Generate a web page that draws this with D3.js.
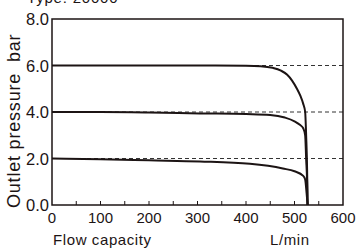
<!DOCTYPE html>
<html><head><meta charset="utf-8">
<script src="https://cdn.jsdelivr.net/npm/d3@7/dist/d3.min.js"></script>
<style>
html,body{margin:0;padding:0;background:#fff;}
svg{display:block;font-family:"Liberation Sans",Arial,Helvetica,sans-serif;}
</style></head>
<body><svg id="c" width="358" height="249"></svg>
<script>
const title = "Type: 20000";
const xTicks = [0,100,200,300,400,500,600];
const xMinorTicks = [50,150,250,350,450,550];
const yTicks = [0,2,4,6,8];
const refLevels = [2,4,6];
const flow6 = [0,100,200,300,400,430,455,472,485,495,505,512,518,522,524,526,527];
const press6 = [6,6,6,6,5.99,5.97,5.9,5.78,5.6,5.35,5.0,4.7,4.35,4.0,3.0,1.5,0];
const flow4 = [0,100,200,305,400,450,480,500,511,518,522,524,526,527];
const press4 = [4,4,3.98,3.94,3.91,3.87,3.76,3.6,3.45,3.3,3.0,2.0,1.0,0];
const flow2 = [0,100,200,305,408,476,500,518,522,525,527];
const press2 = [2,1.97,1.92,1.87,1.77,1.57,1.45,1.25,1.1,0.5,0];

const svg = d3.select("#c");
const L=52,R=343,T=19,B=205;
const x = d3.scaleLinear().domain([0,600]).range([L,R]);
const y = d3.scaleLinear().domain([0,8]).range([B,T]);
const ink = "#1c1414";

// dashed reference lines
svg.append("g").selectAll("line").data(refLevels).join("line")
  .attr("x1",x(0)).attr("x2",x(600)).attr("y1",d=>y(d)).attr("y2",d=>y(d))
  .attr("stroke","#333").attr("stroke-width",1).attr("stroke-dasharray","4,3");

// frame
svg.append("rect").attr("x",L).attr("y",T).attr("width",R-L).attr("height",B-T)
  .attr("fill","none").attr("stroke",ink).attr("stroke-width",1.5);

// x minor/major ticks (inward)
svg.append("g").selectAll("line").data(xTicks.concat(xMinorTicks).filter(d=>d>0&&d<600)).join("line")
  .attr("x1",d=>x(d)).attr("x2",d=>x(d)).attr("y1",B).attr("y2",B-4)
  .attr("stroke",ink).attr("stroke-width",1);

// x labels
svg.append("g").selectAll("text").data(xTicks).join("text")
  .attr("x",d=>x(d)).attr("y",B+18).attr("text-anchor","middle")
  .attr("font-size",15).attr("fill",ink).text(d=>d);

// y labels
svg.append("g").selectAll("text").data(yTicks).join("text")
  .attr("x",L-3).attr("y",d=>y(d)+6).attr("text-anchor","end")
  .attr("font-size",16.5).attr("fill",ink).text(d=>d.toFixed(1));

// curves
const line = d3.line().x(d=>x(d[0])).y(d=>y(d[1])).curve(d3.curveMonotoneX);
[[flow6,press6],[flow4,press4],[flow2,press2]].forEach(([f,p])=>{
  svg.append("path").datum(f.map((v,i)=>[v,p[i]])).attr("d",line)
    .attr("fill","none").attr("stroke",ink).attr("stroke-width",2);
});

// titles
svg.append("text").attr("x",27).attr("y",3).attr("font-size",15).attr("fill",ink).attr("letter-spacing",0.8).text(title);
svg.append("text").attr("x",53).attr("y",245).attr("font-size",15).attr("fill",ink).attr("letter-spacing",0.6).text("Flow capacity");
svg.append("text").attr("x",270).attr("y",245).attr("font-size",15).attr("fill",ink).attr("letter-spacing",0.6).text("L/min");
svg.append("text").attr("transform","translate(20,208) rotate(-90)").attr("font-size",18).attr("fill",ink).attr("letter-spacing",0.8).text("Outlet pressure");
svg.append("text").attr("transform","translate(20,62) rotate(-90)").attr("font-size",18).attr("fill",ink).attr("letter-spacing",0.8).text("bar");
</script></body></html>
